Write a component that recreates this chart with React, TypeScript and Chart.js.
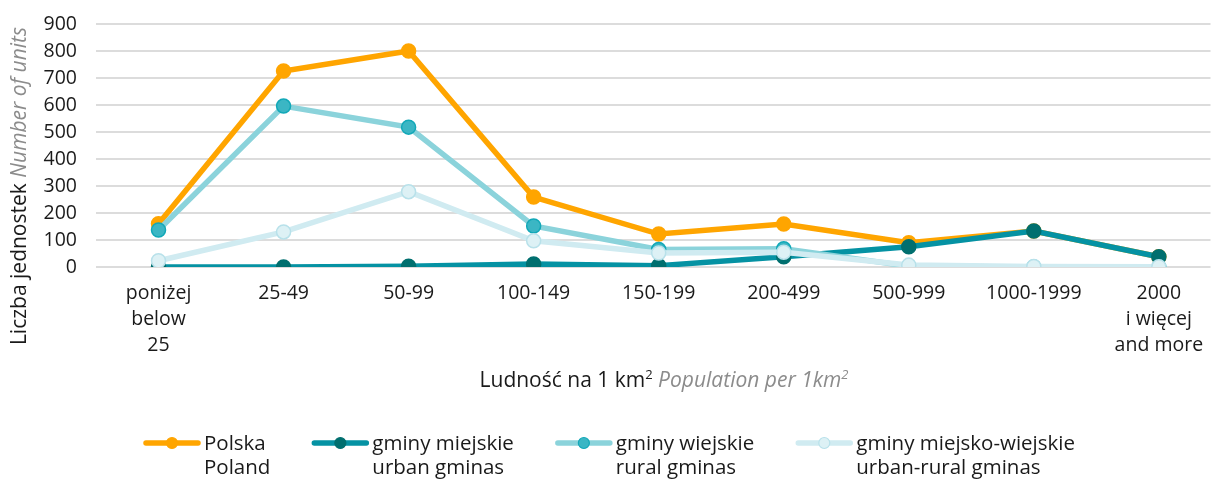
import React, { useEffect, useRef } from "react";
import { Chart, registerables } from "chart.js";

Chart.register(...registerables);

const categories: string[][] = [
  ["poniżej", "below", "25"],
  ["25-49"],
  ["50-99"],
  ["100-149"],
  ["150-199"],
  ["200-499"],
  ["500-999"],
  ["1000-1999"],
  ["2000", "i więcej", "and more"],
];

const polska = [160, 726, 800, 259, 122, 159, 90, 133, 38];
const urban = [0, 0, 3, 11, 5, 38, 75, 133, 38];
const rural = [137, 596, 518, 152, 65, 68, 3, 0, 0];
const urbanRural = [23, 130, 279, 97, 52, 55, 7, 2, 1];

const legendLines = [
  ["Polska", "Poland"],
  ["gminy miejskie", "urban gminas"],
  ["gminy wiejskie", "rural gminas"],
  ["gminy miejsko-wiejskie", "urban-rural gminas"],
];

const yTicks = [0, 100, 200, 300, 400, 500, 600, 700, 800, 900];

const FONT = "'Open Sans', sans-serif";
const TICK = 19.5;
const TITLE = 21;
const LEG = 20.5;

export default function App() {
  const ref = useRef<HTMLCanvasElement | null>(null);

  useEffect(() => {
    document.body.style.margin = "0";
    const canvas = ref.current;
    if (!canvas) return;

    const toXY = (arr: number[]) => arr.map((y, i) => ({ x: i, y }));

    const titlesPlugin = {
      id: "titlesLegend",
      afterDraw(chart: any) {
        const ctx = chart.ctx as CanvasRenderingContext2D;
        ctx.save();
        // Y axis title
        ctx.translate(20, 186);
        ctx.rotate(-Math.PI / 2);
        ctx.textBaseline = "middle";
        ctx.font = `${TITLE}px ${FONT}`;
        const t1 = "Liczba jednostek ";
        const t2 = "Number of units";
        const w1 = ctx.measureText(t1).width;
        ctx.font = `italic ${TITLE}px ${FONT}`;
        const w2 = ctx.measureText(t2).width;
        const sx = -(w1 + w2) / 2;
        ctx.font = `${TITLE}px ${FONT}`;
        ctx.fillStyle = "#1a1a1a";
        ctx.textAlign = "left";
        ctx.fillText(t1, sx, 0);
        ctx.font = `italic ${TITLE}px ${FONT}`;
        ctx.fillStyle = "#8c8c8c";
        ctx.fillText(t2, sx + w1, 0);
        ctx.restore();

        // X axis title
        ctx.save();
        ctx.textBaseline = "alphabetic";
        ctx.textAlign = "left";
        const parts = [
          { t: "Ludność na 1 km", f: `${TITLE}px ${FONT}`, c: "#1a1a1a", dy: 0 },
          { t: "2", f: `13px ${FONT}`, c: "#1a1a1a", dy: -8 },
          { t: " Population per 1km", f: `italic ${TITLE}px ${FONT}`, c: "#8c8c8c", dy: 0 },
          { t: "2", f: `italic 13px ${FONT}`, c: "#8c8c8c", dy: -8 },
        ];
        let total = 0;
        for (const p of parts) {
          ctx.font = p.f;
          total += ctx.measureText(p.t).width;
        }
        let x = 664 - total / 2;
        const by = 387;
        for (const p of parts) {
          ctx.font = p.f;
          ctx.fillStyle = p.c;
          ctx.fillText(p.t, x, by + p.dy);
          x += ctx.measureText(p.t).width;
        }
        ctx.restore();

        // Legend
        ctx.save();
        ctx.font = `${LEG}px ${FONT}`;
        ctx.textBaseline = "middle";
        ctx.textAlign = "left";
        const lineLen = 56;
        const gapText = 4;
        const gapItem = 42;
        const widths = legendLines.map((ls) =>
          Math.max(...ls.map((l) => ctx.measureText(l).width))
        );
        const totalW =
          widths.reduce((a, b) => a + b, 0) +
          legendLines.length * (lineLen + gapText) +
          (legendLines.length - 1) * gapItem;
        let lx = (chart.width - totalW) / 2;
        const ly = 443;
        chart.data.datasets.forEach((ds: any, i: number) => {
          ctx.strokeStyle = ds.borderColor;
          ctx.lineWidth = 5.5;
          ctx.lineCap = "round";
          ctx.beginPath();
          ctx.moveTo(lx + 2, ly);
          ctx.lineTo(lx + lineLen - 2, ly);
          ctx.stroke();
          ctx.beginPath();
          ctx.arc(lx + lineLen / 2, ly, 5.5, 0, Math.PI * 2);
          ctx.fillStyle = ds.pointBackgroundColor;
          ctx.fill();
          ctx.lineWidth = 1.2;
          ctx.strokeStyle = ds.pointBorderColor;
          ctx.stroke();
          ctx.fillStyle = "#1a1a1a";
          legendLines[i].forEach((l, k) => {
            ctx.fillText(l, lx + lineLen + gapText, ly + 1 + k * 24);
          });
          lx += lineLen + gapText + widths[i] + gapItem;
        });
        ctx.restore();
      },
    };

    const mk = (
      label: string,
      arr: number[],
      line: string,
      fill: string,
      border: string,
      order: number
    ) => ({
      label,
      data: toXY(arr),
      borderColor: line,
      backgroundColor: line,
      pointBackgroundColor: fill,
      pointBorderColor: border,
      pointBorderWidth: 1.5,
      pointRadius: 7,
      borderWidth: 5.5,
      tension: 0,
      order,
    });

    const chart = new Chart(canvas, {
      type: "line",
      data: {
        datasets: [
          mk("Polska Poland", polska, "#FFA500", "#FFA500", "#FFA500", 4),
          mk("gminy miejskie urban gminas", urban, "#0592A3", "#006F6F", "#006F6F", 3),
          mk("gminy wiejskie rural gminas", rural, "#8BD3DB", "#3BB6C4", "#12A8B8", 2),
          mk("gminy miejsko-wiejskie urban-rural gminas", urbanRural, "#D0EBF1", "#DDF1F5", "#B8E1EA", 1),
        ],
      },
      options: {
        animation: false,
        responsive: false,
        maintainAspectRatio: false,
        layout: { padding: { top: 24, right: 0, bottom: 0, left: 0 } },
        plugins: {
          legend: { display: false },
          tooltip: { enabled: false },
          title: { display: false },
        },
        scales: {
          x: {
            type: "linear",
            min: -0.5,
            max: 8.413,
            afterBuildTicks: (scale: any) => {
              scale.ticks = categories.map((_, i) => ({ value: i }));
            },
            afterFit: (scale: any) => {
              scale.height = 212;
              scale.paddingLeft = 0;
              scale.paddingRight = 0;
            },
            grid: { display: false, drawTicks: false, tickLength: 0 },
            border: { display: false },
            ticks: {
              autoSkip: false,
              maxRotation: 0,
              padding: 13,
              color: "#1a1a1a",
              font: { family: FONT, size: TICK, lineHeight: 26 / TICK },
              callback: (v: any) => categories[Number(v)] ?? "",
            },
          },
          y: {
            min: 0,
            max: 900,
            afterBuildTicks: (scale: any) => {
              scale.ticks = yTicks.map((v) => ({ value: v }));
            },
            afterFit: (scale: any) => {
              scale.width = 96;
              scale.paddingTop = 0;
              scale.paddingBottom = 0;
            },
            grid: { color: "#DCDCDC", lineWidth: 2, drawTicks: false, tickLength: 0 },
            border: { display: false },
            ticks: {
              autoSkip: false,
              padding: 19,
              color: "#1a1a1a",
              font: { family: FONT, size: TICK },
            },
          },
        },
      },
      plugins: [titlesPlugin],
    } as any);

    return () => chart.destroy();
  }, []);

  return (
    <div style={{ width: 1219, height: 479 }}>
      <canvas ref={ref} width={1219} height={479} style={{ display: "block" }} />
    </div>
  );
}
